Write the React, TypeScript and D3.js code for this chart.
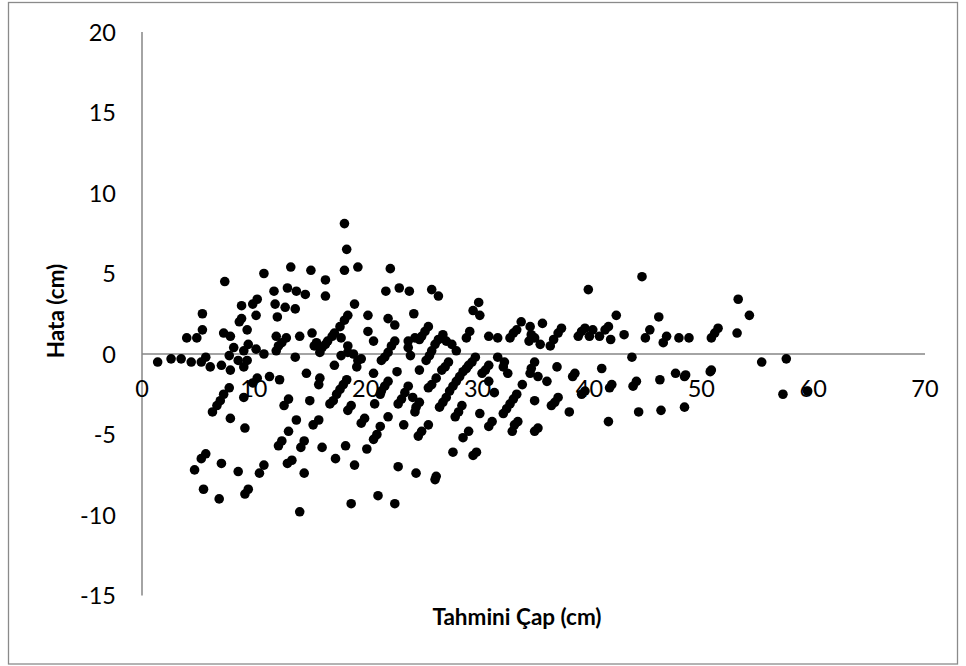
// @ts-nocheck
import * as d3 from "d3"

// Tahmini çap (cm) vs hata (cm)
const points = [
  [7.4, 4.5], [5.4, 2.5], [10.9, 5.0], [13.3, 5.4], [15.1, 5.2], [11.8, 3.9], [13.0, 4.1], [13.8, 3.9],
  [14.6, 3.7], [8.9, 3.0], [9.9, 3.1], [10.3, 3.4], [11.9, 3.1], [12.8, 2.9], [13.7, 2.8], [10.2, 2.4],
  [12.1, 2.3], [8.9, 2.2], [1.4, -0.5], [2.6, -0.3], [3.5, -0.3], [4.4, -0.5], [5.3, -0.5], [5.7, -0.2],
  [6.1, -0.8], [7.1, -0.7], [7.9, -1.0], [7.8, -0.1], [8.2, 0.4], [8.6, -0.4], [9.1, -0.8], [9.4, -0.4],
  [9.1, 0.2], [9.5, 0.6], [10.2, 0.3], [10.9, 0.0], [12.0, 0.2], [12.2, 0.5], [12.5, 0.7], [12.9, 1.0],
  [12.0, 1.1], [14.1, 1.1], [15.2, 1.3], [15.4, 0.5], [13.7, -0.2], [14.7, -1.2], [15.8, -1.9], [4.0, 1.0],
  [4.9, 1.0], [5.4, 1.5], [7.3, 1.3], [7.9, 1.1], [8.7, 2.0], [9.4, 1.5], [10.3, -1.5], [9.9, -1.8],
  [11.4, -1.4], [12.3, -1.6], [7.8, -2.1], [7.3, -2.5], [7.0, -2.9], [6.7, -3.2], [6.3, -3.6], [9.1, -2.7],
  [7.9, -4.0], [9.2, -4.6], [13.1, -2.8], [12.7, -3.2], [15.0, -2.9], [13.8, -4.1], [15.3, -4.4], [15.8, -4.1],
  [15.9, -1.5], [18.1, 8.1], [18.3, 6.5], [18.1, 5.2], [19.3, 5.4], [16.4, 4.6], [16.4, 3.6], [22.2, 5.3],
  [21.8, 3.9], [23.0, 4.1], [23.9, 3.9], [25.9, 4.0], [26.5, 3.6], [19.0, 3.1], [20.2, 2.4], [22.0, 2.2],
  [24.3, 2.5], [30.1, 3.2], [29.6, 2.7], [30.2, 2.4], [18.4, 2.4], [18.1, 2.1], [17.7, 1.7], [17.2, 1.3],
  [17.0, 1.1], [16.6, 0.8], [16.4, 0.6], [16.1, 0.4], [15.9, 0.1], [15.6, 0.7], [22.6, 1.8], [20.2, 1.4],
  [20.7, 0.8], [22.6, 0.8], [22.3, 0.5], [22.0, 0.1], [21.7, -0.2], [21.4, -0.4], [23.8, 0.8], [23.8, 0.4],
  [24.0, -0.1], [24.4, 1.0], [25.0, 1.1], [25.6, 1.7], [25.3, 1.4], [24.8, 0.9], [26.5, 0.9], [26.9, 1.2],
  [27.2, 0.8], [27.7, 0.6], [28.1, 0.2], [26.2, 0.6], [25.9, 0.2], [25.7, -0.1], [25.4, -0.4], [29.0, 1.0],
  [29.3, 1.4], [31.0, 1.1], [17.8, -0.1], [18.4, 0.1], [18.9, 0.0], [19.3, -0.4], [19.6, -0.3], [17.2, -0.7],
  [19.2, -0.8], [29.8, -0.2], [29.5, -0.5], [29.2, -0.7], [29.0, -0.9], [28.7, -1.1], [31.0, -0.7], [30.7, -1.0],
  [30.4, -1.2], [27.4, -0.5], [27.1, -0.8], [26.8, -1.0], [24.8, -1.0], [22.8, -1.1], [20.7, -1.2], [18.3, -1.6],
  [18.0, -1.9], [17.7, -2.2], [17.4, -2.5], [17.1, -2.9], [16.8, -3.1], [22.0, -1.7], [21.7, -2.0], [21.4, -2.3],
  [21.3, -2.5], [26.3, -1.5], [25.9, -1.9], [25.6, -2.1], [23.8, -2.0], [28.4, -1.4], [28.1, -1.7], [27.8, -2.0],
  [27.5, -2.3], [27.2, -2.7], [26.9, -3.0], [26.6, -3.3], [31.0, -1.7], [23.5, -2.4], [23.2, -2.8], [22.9, -3.1],
  [24.2, -2.7], [24.8, -3.0], [24.5, -3.3], [24.4, -3.6], [20.8, -3.1], [18.7, -3.2], [18.4, -3.5], [28.6, -3.2],
  [28.3, -3.6], [28.0, -3.9], [30.2, -3.7], [19.9, -4.0], [19.6, -4.3], [22.0, -3.9], [23.4, -4.4], [25.6, -4.4],
  [31.3, -4.2], [31.0, -4.5], [21.3, -4.5], [25.0, -4.8], [24.7, -5.1], [21.0, -5.0], [20.7, -5.3], [16.1, -5.8],
  [18.2, -5.7], [20.1, -5.9], [17.3, -6.5], [19.0, -6.9], [22.9, -7.0], [24.5, -7.4], [26.3, -7.6], [26.2, -7.8],
  [27.8, -6.1], [29.9, -6.1], [29.6, -6.3], [28.7, -5.2], [29.2, -4.8], [18.7, -9.3], [21.1, -8.8], [22.6, -9.3],
  [13.1, -4.8], [12.5, -5.4], [12.2, -5.7], [14.5, -5.4], [14.2, -5.8], [5.7, -6.2], [5.3, -6.5], [4.7, -7.2],
  [7.1, -6.8], [8.6, -7.3], [10.9, -6.9], [10.5, -7.4], [13.4, -6.6], [13.0, -6.8], [14.5, -7.4], [5.5, -8.4],
  [6.9, -9.0], [9.5, -8.4], [9.2, -8.7], [14.1, -9.8], [33.1, -4.8], [35.1, -4.8], [35.4, -4.6], [33.9, 2.0],
  [34.7, 1.7], [35.8, 1.9], [32.9, 1.0], [33.2, 1.3], [33.5, 1.5], [31.8, 1.0], [34.8, 1.2], [34.6, 0.8],
  [35.1, 1.0], [35.6, 0.6], [36.5, 0.5], [36.8, 0.9], [37.2, 1.3], [37.5, 1.6], [39.0, 1.1], [39.3, 1.4],
  [39.6, 1.6], [40.0, 1.1], [40.3, 1.5], [40.9, 1.1], [41.4, 1.5], [41.7, 1.7], [41.9, 0.9], [43.1, 1.2],
  [45.0, 1.0], [45.4, 1.5], [46.6, 0.7], [46.9, 1.1], [42.4, 2.4], [46.2, 2.3], [43.8, -0.2], [31.8, -0.2],
  [32.4, -0.5], [32.3, -0.8], [32.7, -1.2], [35.1, -0.5], [34.8, -0.9], [34.7, -1.2], [35.4, -1.4], [36.2, -1.7],
  [37.1, -0.8], [38.7, -1.2], [38.5, -1.4], [41.1, -0.9], [42.0, -1.9], [41.8, -2.1], [44.2, -1.7], [43.9, -2.0],
  [46.3, -1.6], [34.0, -1.9], [33.5, -2.5], [33.2, -2.8], [31.5, -2.4], [35.1, -2.9], [37.2, -2.7], [36.9, -3.0],
  [36.6, -3.2], [39.6, -2.3], [39.3, -2.5], [32.9, -3.1], [32.6, -3.4], [32.3, -3.7], [38.2, -3.6], [41.7, -4.2],
  [44.4, -3.6], [46.4, -3.5], [33.6, -4.2], [33.3, -4.4], [53.3, 3.4], [54.3, 2.4], [53.2, 1.3], [51.5, 1.6],
  [51.2, 1.3], [50.9, 1.0], [48.0, 1.0], [48.9, 1.0], [55.4, -0.5], [57.6, -0.3], [57.3, -2.5], [59.5, -2.3],
  [50.9, -1.0], [50.8, -1.1], [47.7, -1.2], [48.6, -1.3], [48.5, -1.4], [48.5, -3.3], [17.8, 1.0], [18.4, 0.5],
  [39.9, 4.0], [44.7, 4.8],
]

const xTicks = [0, 10, 20, 30, 40, 50, 60, 70]
const yTicks = [-15, -10, -5, 0, 5, 10, 15, 20]
const xTitle = "Tahmini Çap (cm)"
const yTitle = "Hata (cm)"

export default function App() {
  const width = 966
  const height = 666
  const x = d3.scaleLinear().domain([0, 70]).range([142, 925])
  const y = d3.scaleLinear().domain([-15, 20]).range([595.5, 32])
  const font = "Lato, 'Open Sans', sans-serif"
  const axisColor = "#868686"

  return (
    <svg
      width={width}
      height={height}
      style={{ position: "absolute", left: 0, top: 0, background: "#fff" }}
    >
      <rect x={8.5} y={2.5} width={949} height={661.5} fill="#fff" stroke="#8a8a8a" strokeWidth={1.3} />

      {/* axes */}
      <line x1={x(0)} x2={x(0)} y1={y(20)} y2={y(-15)} stroke={axisColor} strokeWidth={1.5} />
      <line x1={x(0)} x2={x(70)} y1={y(0)} y2={y(0)} stroke={axisColor} strokeWidth={1.5} />

      {/* y tick labels */}
      {yTicks.map((t) => (
        <text key={"y" + t} x={116} y={y(t) + 8.5} textAnchor="end" fontFamily={font} fontSize={23.5} fill="#000">
          {t}
        </text>
      ))}

      {/* x tick labels, on the zero line */}
      {xTicks.map((t) => (
        <text key={"x" + t} x={x(t)} y={y(0) + 43} textAnchor="middle" fontFamily={font} fontSize={23.5} fill="#000">
          {t}
        </text>
      ))}

      {/* points */}
      {points.map((d, i) => (
        <circle key={i} cx={x(d[0])} cy={y(d[1])} r={4.8} fill="#000" />
      ))}

      <text x={517} y={625} textAnchor="middle" fontFamily={font} fontWeight="bold" fontSize={22.5} fill="#000">
        {xTitle}
      </text>
      <text
        transform="translate(64,311) rotate(-90)"
        textAnchor="middle"
        fontFamily={font}
        fontWeight="bold"
        fontSize={22.5}
        fill="#000"
      >
        {yTitle}
      </text>
    </svg>
  )
}
